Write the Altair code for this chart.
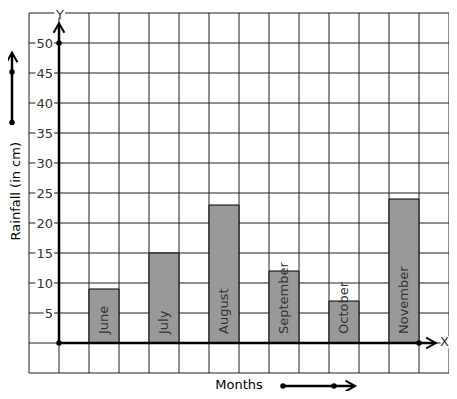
import altair as alt
import pandas as pd

months = ["June", "July", "August", "September", "October", "November"]
rainfall = [9, 15, 23, 12, 7, 24]
y_ticks = [5, 10, 15, 20, 25, 30, 35, 40, 45, 50]
x_title = "Months"
y_title = "Rainfall (in cm)"

X_DOM = [-1, 13]
Y_DOM = [-5, 55]
FONT = "DejaVu Sans"
TXT = "#333333"
LINE = "#1e1e1e"

xs = alt.Scale(domain=X_DOM, nice=False, zero=False)
ys = alt.Scale(domain=Y_DOM, nice=False, zero=False)


def X(f):
    return alt.X(f, type="quantitative", scale=xs, axis=None)


def Y(f):
    return alt.Y(f, type="quantitative", scale=ys, axis=None)


bars = pd.DataFrame({
    "month": months,
    "value": rainfall,
    "x0": [2 * i + 1 for i in range(len(months))],
    "x1": [2 * i + 2 for i in range(len(months))],
    "xc": [2 * i + 1.5 for i in range(len(months))],
    "lab_y": [1.5] * len(months),
    "zero": [0] * len(months),
})

vgrid = pd.DataFrame({"x": list(range(X_DOM[0], X_DOM[1] + 1)), "y0": Y_DOM[0], "y1": Y_DOM[1]})
hgrid = pd.DataFrame({"y": list(range(Y_DOM[0], Y_DOM[1] + 1, 5)), "x0": X_DOM[0], "x1": X_DOM[1]})

ticks = pd.DataFrame({
    "v": y_ticks,
    "label": [str(v) for v in y_ticks],
    "tx": [-0.2] * len(y_ticks),
    "bx0": [-0.2 - (len(str(v)) * 8.3 + 1) / 30 for v in y_ticks],
    "bx1": [-0.2 + 1 / 30] * len(y_ticks),
    "by0": [v - 0.9 for v in y_ticks],
    "by1": [v + 0.9 for v in y_ticks],
})

# annotation elements (in data units)
letters = pd.DataFrame({
    "t": ["Y", "X"],
    "x": [0.03, 12.85],
    "y": [54.62, 0.1],
    "bx0": [-0.15, 12.72],
    "bx1": [0.2, 13.05],
    "by0": [54.2, -0.9],
    "by1": [55.6, 1.1],
})
axes_lines = pd.DataFrame({
    "x0": [0, 0, -1.567, 7.467],
    "x1": [0, 12.52, -1.567, 9.85],
    "y0": [0, 0, 36.75, -7.17],
    "y1": [53.0, 0, 48.1, -7.17],
})
dots = pd.DataFrame({
    "x": [0, 0, 12, -1.567, -1.567, 7.467, 9.167],
    "y": [0, 50, 0, 45.17, 36.75, -7.17, -7.17],
})
up_heads = pd.DataFrame({"x": [0, -1.567], "y": [53.3, 48.4]})
right_heads = pd.DataFrame({"x": [12.56, 9.87], "y": [0, -7.17]})
titles = pd.DataFrame({"t": [x_title], "x": [6.0], "y": [-7.0]})
ytitle = pd.DataFrame({"t": [y_title], "x": [-1.45], "y": [25.3]})

layers = [
    alt.Chart(vgrid).mark_rule(color=LINE, strokeWidth=1).encode(x=X("x"), y=Y("y0"), y2="y1"),
    alt.Chart(hgrid).mark_rule(color=LINE, strokeWidth=1).encode(y=Y("y"), x=X("x0"), x2="x1"),
    alt.Chart(ticks).mark_rect(color="white").encode(x=X("bx0"), x2="bx1", y=Y("by0"), y2="by1"),
    alt.Chart(letters).mark_rect(color="white").encode(x=X("bx0"), x2="bx1", y=Y("by0"), y2="by1"),
    alt.Chart(bars).mark_rect(fill="#999999", stroke="black", strokeWidth=1).encode(
        x=X("x0"), x2="x1", y=Y("zero"), y2="value"),
    alt.Chart(axes_lines).mark_rule(color="black", strokeWidth=2.5).encode(
        x=X("x0"), x2="x1", y=Y("y0"), y2="y1"),
    alt.Chart(dots).mark_point(filled=True, color="black", size=30, opacity=1).encode(x=X("x"), y=Y("y")),
    alt.Chart(up_heads).mark_point(shape="M -0.9 1.6 L 0 0 L 0.9 1.6", filled=False, color="black",
                                   strokeWidth=2, size=144, opacity=1).encode(x=X("x"), y=Y("y")),
    alt.Chart(right_heads).mark_point(shape="M -1.6 -0.9 L 0 0 L -1.6 0.9", filled=False, color="black",
                                      strokeWidth=2, size=144, opacity=1).encode(x=X("x"), y=Y("y")),
    alt.Chart(ticks).mark_text(align="right", baseline="middle", font=FONT, fontSize=13, color=TXT, dy=1).encode(
        x=X("tx"), y=Y("v"), text="label:N"),
    alt.Chart(bars).mark_text(align="left", baseline="middle", angle=270, font=FONT, fontSize=13, color=TXT).encode(
        x=X("xc"), y=Y("lab_y"), text="month:N"),
    alt.Chart(letters).mark_text(align="center", baseline="middle", font=FONT, fontSize=13, color=TXT).encode(
        x=X("x"), y=Y("y"), text="t:N"),
    alt.Chart(titles).mark_text(align="center", baseline="middle", font=FONT, fontSize=13, color="black").encode(
        x=X("x"), y=Y("y"), text="t:N"),
    alt.Chart(ytitle).mark_text(align="center", baseline="middle", angle=270, font=FONT, fontSize=13,
                                color="black").encode(x=X("x"), y=Y("y"), text="t:N"),
]

chart = alt.layer(*layers).properties(
    width=420,
    height=360,
    padding={"left": 21, "top": 5, "right": 0, "bottom": 18},
    autosize=alt.AutoSizeParams(type="none"),
).configure_view(stroke=None)

chart.save("out.html", embed_options={"renderer": "svg", "actions": False})
